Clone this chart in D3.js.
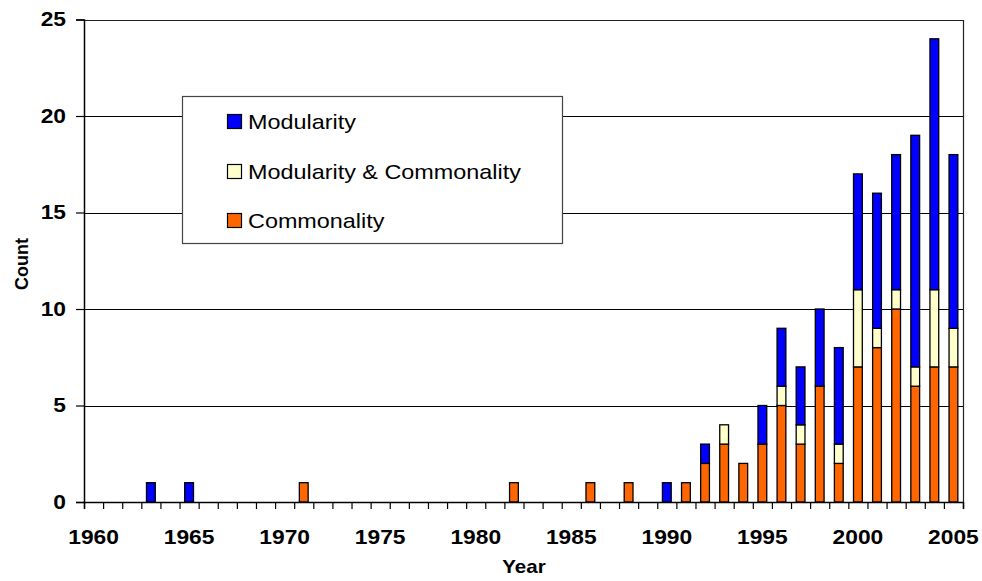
<!DOCTYPE html>
<html>
<head>
<meta charset="utf-8">
<script src="https://cdn.jsdelivr.net/npm/d3@7"></script>
<style>
  body { margin: 0; background: #fff; }
  svg { display: block; font-family: "Liberation Sans", Arial, sans-serif; }
</style>
</head>
<body>
<div id="chart"></div>
<script>
// categories (one per year)
var years = [1960, 1961, 1962, 1963, 1964, 1965, 1966, 1967, 1968, 1969,
             1970, 1971, 1972, 1973, 1974, 1975, 1976, 1977, 1978, 1979,
             1980, 1981, 1982, 1983, 1984, 1985, 1986, 1987, 1988, 1989,
             1990, 1991, 1992, 1993, 1994, 1995, 1996, 1997, 1998, 1999,
             2000, 2001, 2002, 2003, 2004, 2005];

// series, bottom to top
var commonality = [0, 0, 0, 0, 0, 0, 0, 0, 0, 0,
                   0, 1, 0, 0, 0, 0, 0, 0, 0, 0,
                   0, 0, 1, 0, 0, 0, 1, 0, 1, 0,
                   0, 1, 2, 3, 2, 3, 5, 3, 6, 2,
                   7, 8, 10, 6, 7, 7];
var both = [0, 0, 0, 0, 0, 0, 0, 0, 0, 0,
            0, 0, 0, 0, 0, 0, 0, 0, 0, 0,
            0, 0, 0, 0, 0, 0, 0, 0, 0, 0,
            0, 0, 0, 1, 0, 0, 1, 1, 0, 1,
            4, 1, 1, 1, 4, 2];
var modularity = [0, 0, 0, 1, 0, 1, 0, 0, 0, 0,
                  0, 0, 0, 0, 0, 0, 0, 0, 0, 0,
                  0, 0, 0, 0, 0, 0, 0, 0, 0, 0,
                  1, 0, 1, 0, 0, 2, 3, 3, 4, 5,
                  6, 7, 7, 12, 13, 9];

var seriesNames = ["Commonality", "Modularity & Commonality", "Modularity"];
var seriesColors = ["#ff6600", "#ffffcc", "#0000ff"];
var yTicks = [0, 5, 10, 15, 20, 25];
var labelYears = [1960, 1965, 1970, 1975, 1980, 1985, 1990, 1995, 2000, 2005];

var W = 982, H = 581;
var plotLeft = 84, plotRight = 963, plotTop = 19.5, plotBottom = 502;
var sx = 1.14; // the reference text is a little stretched sideways

var svg = d3.select("#chart").append("svg")
    .attr("width", W)
    .attr("height", H);

var rows = years.map(function(yr, i) {
    return { year: yr, c: commonality[i], b: both[i], m: modularity[i] };
});

var x = d3.scaleBand()
    .domain(years)
    .range([plotLeft, plotRight]);

var xl = d3.scaleLinear()
    .domain([1959.5, 2005.5])
    .range([plotLeft, plotRight]);

var y = d3.scaleLinear()
    .domain([0, 25])
    .range([plotBottom, plotTop]);

// grid lines
svg.append("g")
    .selectAll("line")
    .data(yTicks.slice(1, 5))
    .enter().append("line")
    .attr("x1", plotLeft)
    .attr("x2", plotRight)
    .attr("y1", function(d) { return Math.round(y(d)) + 0.5; })
    .attr("y2", function(d) { return Math.round(y(d)) + 0.5; })
    .attr("stroke", "#000")
    .attr("stroke-width", 1);

// plot frame (top and right)
svg.append("path")
    .attr("d", "M" + plotLeft + "," + (Math.round(plotTop) + 0.5) + "H" + (plotRight + 0.5) + "V" + plotBottom)
    .attr("fill", "none")
    .attr("stroke", "#222")
    .attr("stroke-width", 1.2);

// stacked bars
var stack = d3.stack().keys(["c", "b", "m"])(rows);
var bw = x.bandwidth() * 0.46;

svg.append("g")
    .selectAll("g")
    .data(stack)
    .enter().append("g")
    .attr("fill", function(d, i) { return seriesColors[i]; })
    .attr("stroke", "#000")
    .attr("stroke-width", 1.3)
    .selectAll("rect")
    .data(function(d) { return d.filter(function(p) { return p[1] > p[0]; }); })
    .enter().append("rect")
    .attr("x", function(d) { return x(d.data.year) + (x.bandwidth() - bw) / 2; })
    .attr("y", function(d) { return y(d[1]); })
    .attr("width", bw)
    .attr("height", function(d) { return y(d[0]) - y(d[1]); });

// x axis: tick marks between categories
svg.append("g")
    .attr("transform", "translate(0," + plotBottom + ")")
    .call(d3.axisBottom(xl).tickValues(d3.range(1959.5, 2006, 1)).tickSize(7).tickFormat(""))
    .call(function(g) {
        g.select(".domain").attr("stroke", "#000").attr("stroke-width", 1.5);
        g.selectAll(".tick line").attr("stroke", "#000").attr("stroke-width", 1.2);
    });

// x axis labels
svg.append("g")
    .attr("transform", "translate(0," + plotBottom + ")")
    .call(d3.axisBottom(x).tickValues(labelYears).tickSize(0).tickPadding(28))
    .call(function(g) {
        g.select(".domain").remove();
        g.selectAll("text")
            .attr("font-family", "Liberation Sans, Arial, sans-serif")
            .attr("font-size", 20)
            .attr("font-weight", "bold")
            .attr("fill", "#000")
            .attr("transform", "scale(" + sx + ",1)");
    });

// y axis
svg.append("g")
    .attr("transform", "translate(" + plotLeft + ",0)")
    .call(d3.axisLeft(y).tickValues(yTicks).tickSize(8).tickPadding(10))
    .call(function(g) {
        g.select(".domain").attr("stroke", "#000").attr("stroke-width", 1.5);
        g.selectAll(".tick line").attr("stroke", "#000").attr("stroke-width", 1.2);
        g.selectAll("text")
            .attr("font-family", "Liberation Sans, Arial, sans-serif")
            .attr("font-size", 20)
            .attr("font-weight", "bold")
            .attr("fill", "#000")
            .attr("x", -18 / sx)
            .attr("transform", "scale(" + sx + ",1)");
    });

// axis titles
svg.append("text")
    .attr("transform", "translate(524,573) scale(" + sx + ",1)")
    .attr("text-anchor", "middle")
    .attr("font-size", 18)
    .attr("font-weight", "bold")
    .text("Year");

svg.append("text")
    .attr("transform", "translate(28,264) rotate(-90)")
    .attr("text-anchor", "middle")
    .attr("font-size", 18)
    .attr("font-weight", "bold")
    .text("Count");

// legend
var legend = svg.append("g");
legend.append("rect")
    .attr("x", 182.5)
    .attr("y", 96.5)
    .attr("width", 380)
    .attr("height", 147)
    .attr("fill", "#fff")
    .attr("stroke", "#444")
    .attr("stroke-width", 1.2);

var legendRows = [2, 1, 0];
var legendY = [121.5, 171.5, 220.5];

legend.selectAll("g.item")
    .data(legendRows)
    .enter().append("g")
    .attr("class", "item")
    .each(function(k, i) {
        var g = d3.select(this);
        g.append("rect")
            .attr("x", 227.5)
            .attr("y", legendY[i] - 7)
            .attr("width", 14)
            .attr("height", 14)
            .attr("fill", seriesColors[k])
            .attr("stroke", "#000")
            .attr("stroke-width", 1.2);
        g.append("text")
            .attr("transform", "translate(248," + (legendY[i] + 7) + ") scale(1.17,1)")
            .attr("font-size", 20)
            .attr("fill", "#000")
            .text(seriesNames[k]);
    });
</script>
</body>
</html>
